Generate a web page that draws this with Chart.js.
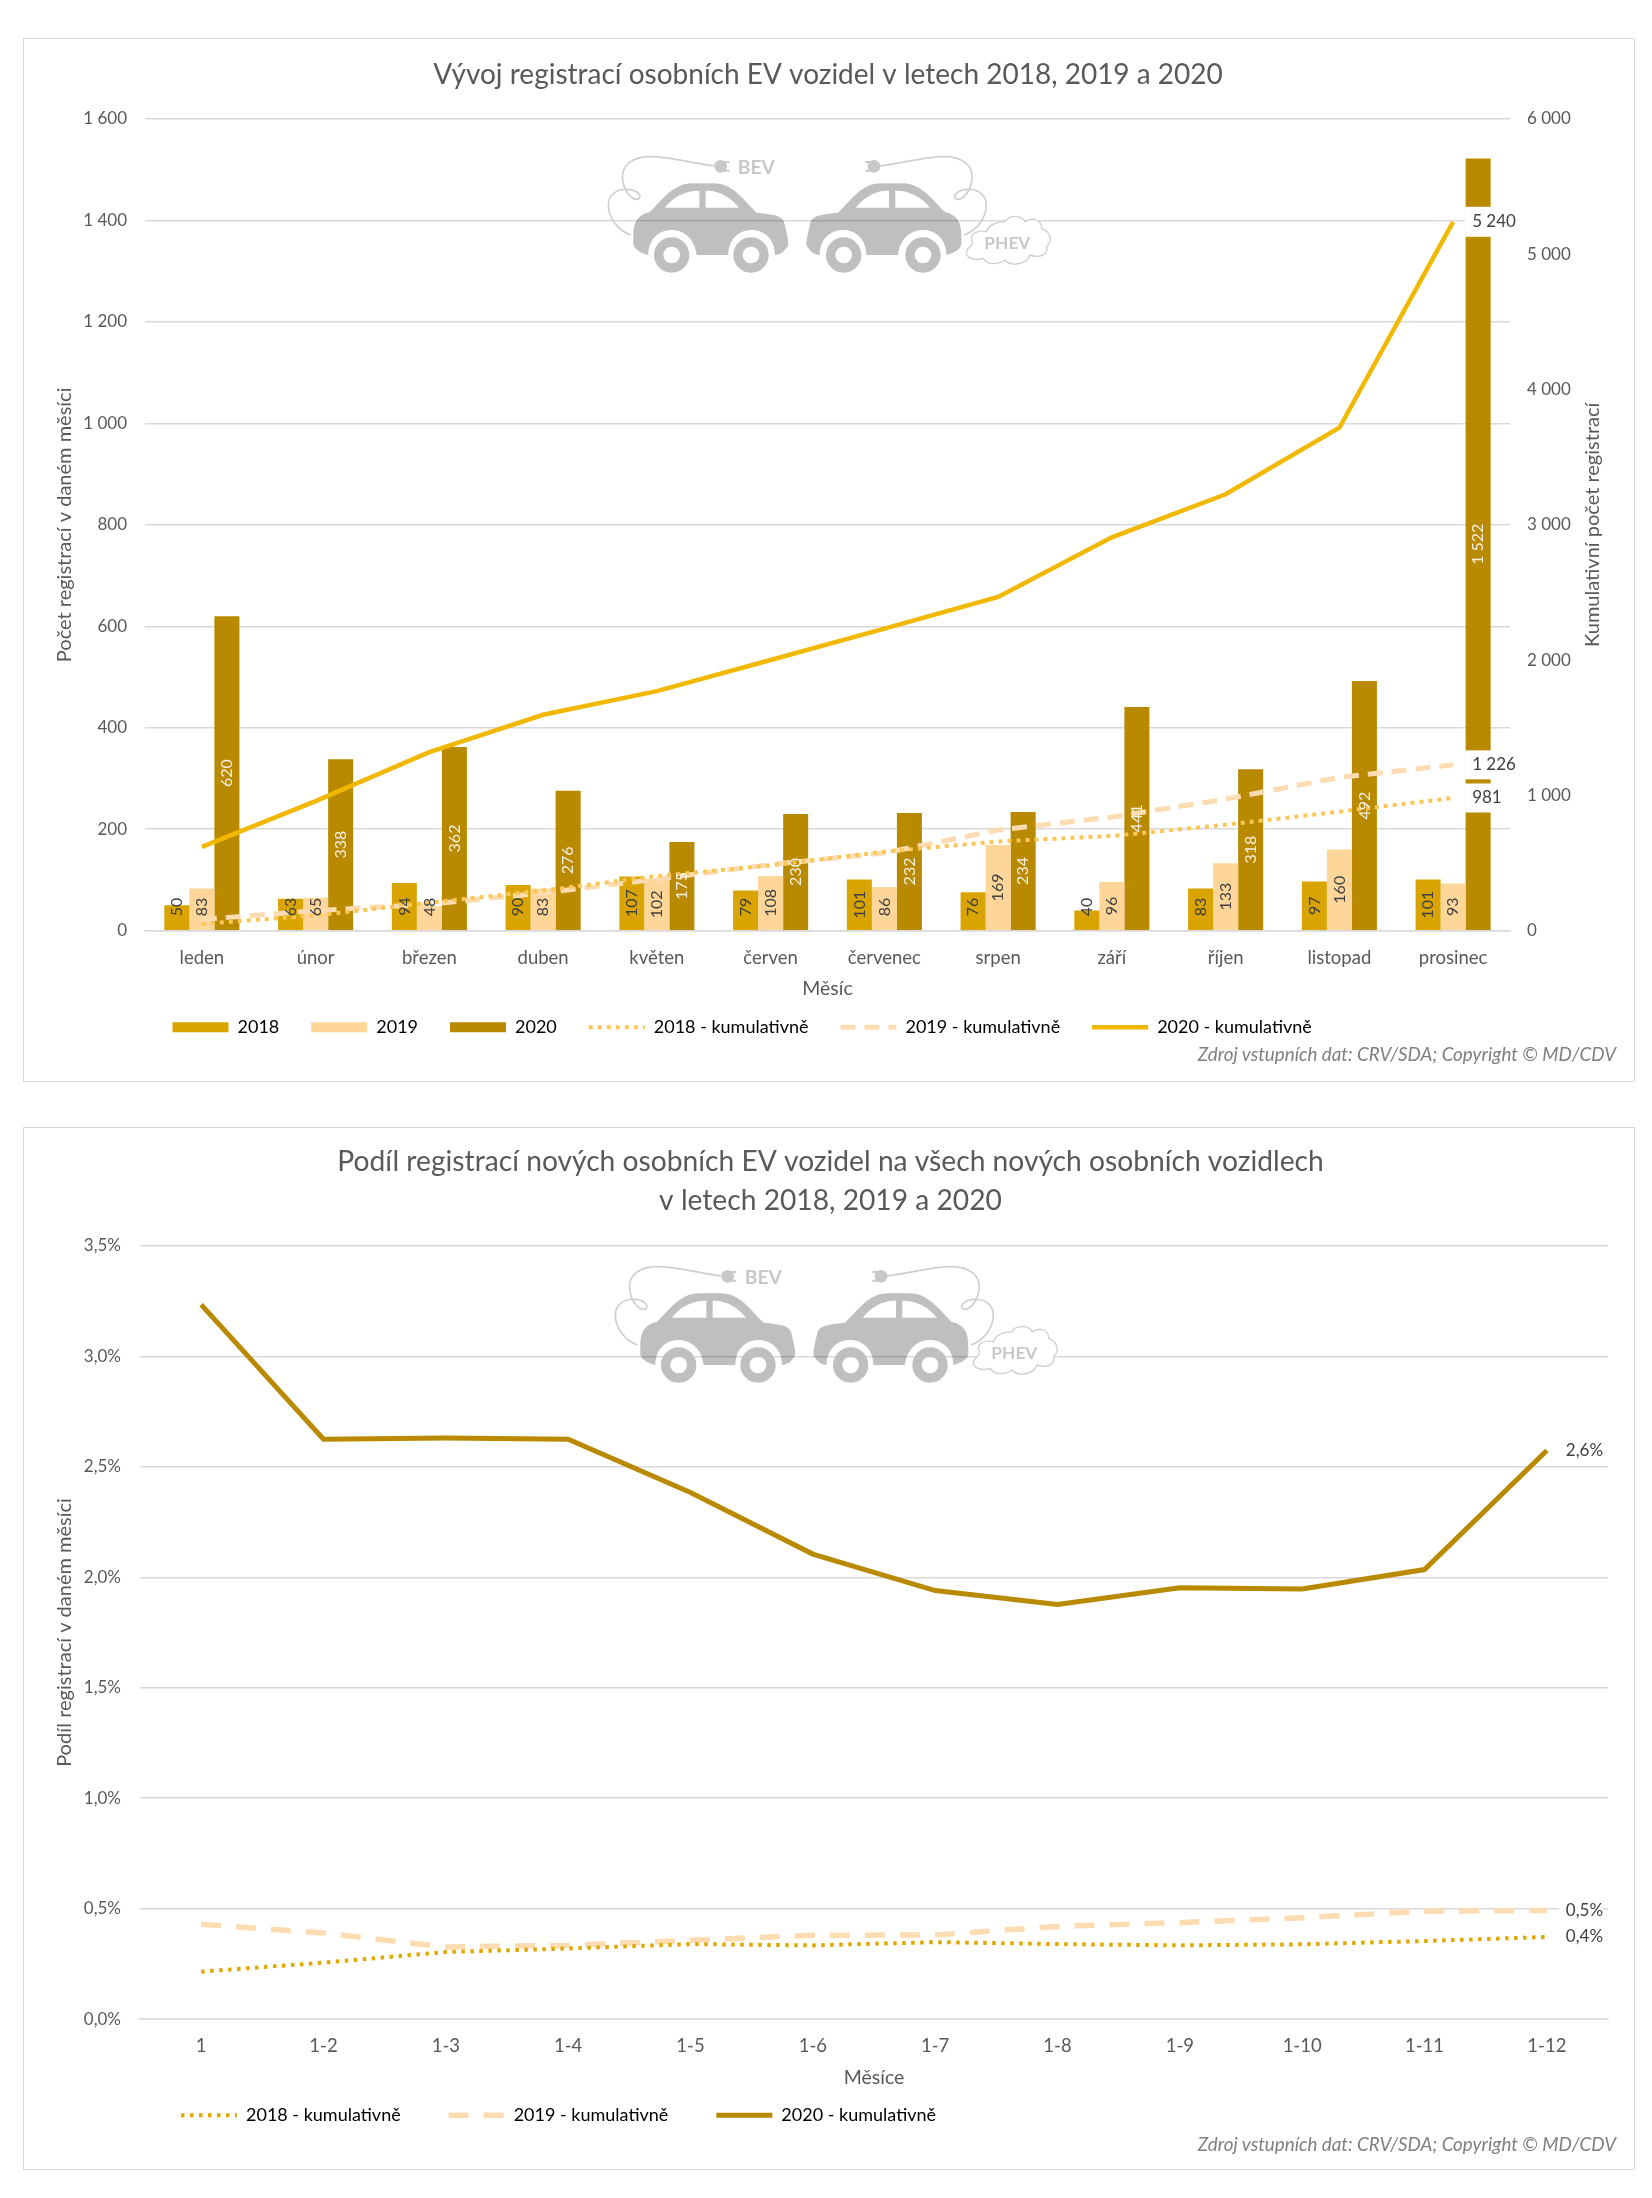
<!DOCTYPE html>
<html>
<head>
<meta charset="utf-8">
<title>Registrace EV</title>
<script src="https://cdn.jsdelivr.net/npm/chart.js@4"></script>
<style>
  html, body { margin: 0; padding: 0; background: #fff; }
  body { position: relative; width: 1652px; height: 2198px; overflow: hidden; font-family: Lato, sans-serif; }
  .frame { position: absolute; left: 23px; width: 1610px; border: 1.5px solid #d9d9d9; box-sizing: content-box; }
  .frame canvas { position: absolute; left: -1px; top: -1px; }
  .source { position: absolute; right: 36px; font: italic 18.8px Lato, sans-serif; color: #7f7f7f; white-space: nowrap; }
  svg.logo { position: absolute; pointer-events: none; }
</style>
</head>
<body>
<div class="frame" style="top:38px;height:1042px"><canvas id="monthlyChart" width="1610" height="1042"></canvas></div>
<div class="frame" style="top:1127px;height:1041px"><canvas id="shareChart" width="1610" height="1041"></canvas></div>
<div class="source" style="top:1042px">Zdroj vstupních dat: CRV/SDA; Copyright © MD/CDV</div>
<div class="source" style="top:2132px">Zdroj vstupních dat: CRV/SDA; Copyright © MD/CDV</div>

<svg class="logo" style="left:600px;top:140px" width="470" height="150" viewBox="0 0 1410 450">
  <defs>
    <g id="car">
      <path fill="#000" fill-opacity=".25" fill-rule="evenodd" d="M100 290 C100 240 115 225 150 215 C175 195 215 130 275 130 L340 130 C400 130 430 180 470 218 C510 222 545 225 552 245 C558 270 565 295 565 315 C555 335 540 345 525 345 C525 300 495 270 455 270 C415 270 385 300 385 345 L290 345 C285 300 255 270 215 270 C175 270 145 300 145 345 C125 340 105 330 100 315 Z M195 203 C215 175 250 152 298 152 L298 203 Z M317 152 C360 150 395 175 417 203 L317 203 Z"/>
      <circle cx="215" cy="345" r="39" fill="none" stroke="#bfbfbf" stroke-width="28"/>
      <circle cx="453" cy="345" r="39" fill="none" stroke="#bfbfbf" stroke-width="28"/>
      <path fill="none" stroke="#cfcfcf" stroke-width="5" d="M92 285 C50 270 25 230 25 195 C25 165 50 145 85 148 C110 150 125 165 118 175 C105 185 75 165 68 120 C62 75 100 50 150 50 C210 50 280 70 345 78"/>
      <circle cx="362" cy="79" r="19" fill="#c8c8c8"/>
      <path fill="none" stroke="#c8c8c8" stroke-width="6" d="M370 66 H388 M370 92 H388"/>
    </g>
    <g id="logoMark">
      <use href="#car"/>
      <use href="#car" transform="matrix(-1 0 0 1 1184 0)"/>
      <text x="413" y="102" font-family="Lato" font-weight="700" font-size="58" fill="#c8c8c8">BEV</text>
      <path fill="#fff" stroke="#cfcfcf" stroke-width="4" d="M1115 300 C1110 280 1135 270 1160 275 C1165 250 1200 245 1215 245 C1225 225 1265 225 1275 245 C1300 230 1325 240 1325 265 C1350 275 1360 300 1340 320 C1345 345 1320 355 1290 345 C1280 375 1230 380 1215 360 C1195 375 1160 375 1150 355 C1120 365 1095 350 1100 335 C1100 320 1125 320 1115 300 Z"/>
      <text x="1153" y="328" font-family="Lato" font-weight="700" font-size="52" fill="#c8c8c8">PHEV</text>
    </g>
  </defs>
  <use href="#logoMark"/>
</svg>
<svg class="logo" style="left:607px;top:1250px" width="470" height="150" viewBox="0 0 1410 450">
  <use href="#logoMark"/>
</svg>

<script>
// data
var months = ["leden", "únor", "březen", "duben", "květen", "červen", "červenec", "srpen", "září", "říjen", "listopad", "prosinec"];
var monthly2018 = [50, 63, 94, 90, 107, 79, 101, 76, 40, 83, 97, 101];
var monthly2019 = [83, 65, 48, 83, 102, 108, 86, 169, 96, 133, 160, 93];
var monthly2020 = [620, 338, 362, 276, 175, 230, 232, 234, 441, 318, 492, 1522];
var cumulative2018 = [50, 113, 207, 297, 404, 483, 584, 660, 700, 783, 880, 981];
var cumulative2019 = [83, 148, 196, 279, 381, 489, 575, 744, 840, 973, 1133, 1226];
var cumulative2020 = [620, 958, 1320, 1596, 1771, 2001, 2233, 2467, 2908, 3226, 3718, 5240];
var leftTicks = ["0", "200", "400", "600", "800", "1 000", "1 200", "1 400", "1 600"];
var rightTicks = ["0", "1 000", "2 000", "3 000", "4 000", "5 000", "6 000"];

var periods = ["1", "1-2", "1-3", "1-4", "1-5", "1-6", "1-7", "1-8", "1-9", "1-10", "1-11", "1-12"];
var share2018 = [0.215, 0.256, 0.304, 0.32, 0.34, 0.334, 0.349, 0.34, 0.334, 0.339, 0.354, 0.372];
var share2019 = [0.43, 0.39, 0.327, 0.334, 0.357, 0.38, 0.381, 0.42, 0.437, 0.459, 0.489, 0.492];
var share2020 = [3.234, 2.625, 2.63, 2.625, 2.384, 2.105, 1.94, 1.877, 1.953, 1.947, 2.035, 2.574];
var shareTicks = ["0,0%", "0,5%", "1,0%", "1,5%", "2,0%", "2,5%", "3,0%", "3,5%"];

var textColor = "#595959";
var gridColor = "#d9d9d9";
var gold2018 = "#d9a300";
var peach2019 = "#ffd699";
var brown2020 = "#b98900";

Chart.defaults.font.family = "Lato, sans-serif";
Chart.defaults.font.size = 17;
Chart.defaults.color = textColor;

function legendItems(chart) {
  return chart.data.datasets.map(function (ds, i) {
    var isBar = ds.type === "bar";
    return {
      text: ds.label,
      datasetIndex: i,
      fillStyle: isBar ? ds.backgroundColor : ds.borderColor,
      strokeStyle: isBar ? ds.backgroundColor : ds.borderColor,
      lineWidth: isBar ? 0 : ds.borderWidth,
      lineDash: ds.borderDash || [],
      pointStyle: isBar ? "rect" : "line"
    };
  });
}

// text with a white box behind it, next to the last point of a line
function endLabel(chart, ctx, datasetIndex, text, boxW, boxH) {
  var point = chart.getDatasetMeta(datasetIndex).data[11];
  ctx.fillStyle = "#fff";
  ctx.fillRect(point.x + 12, point.y - boxH / 2, boxW, boxH);
  ctx.fillStyle = "#404040";
  ctx.textAlign = "left";
  ctx.textBaseline = "middle";
  ctx.fillText(text, point.x + 19, point.y);
}

// puts the legend where it sits in the picture
function moveLegend(left, middle) {
  return {
    id: "moveLegend",
    afterLayout: function (chart) {
      var pad = chart.legend.options.labels.padding;
      chart.legend.left = left - pad;
      chart.legend.top = middle - pad - 10.8;
    }
  };
}

var monthlyNotes = {
  id: "monthlyNotes",
  afterDatasetsDraw: function (chart) {
    var ctx = chart.ctx;
    ctx.save();
    ctx.font = "17px Lato, sans-serif";
    endLabel(chart, ctx, 5, "5 240", 52, 30);
    endLabel(chart, ctx, 4, "1 226", 52, 29);
    endLabel(chart, ctx, 3, "981", 52, 29);

    // rotated labels over the bars, lifted when the bar is too short
    ctx.font = "16px Lato, sans-serif";
    [0, 1, 2].forEach(function (di) {
      var values = chart.data.datasets[di].data;
      chart.getDatasetMeta(di).data.forEach(function (bar, i) {
        var y = Math.min((bar.y + bar.base) / 2, bar.base - 23);
        ctx.save();
        ctx.translate(bar.x, y);
        ctx.rotate(-Math.PI / 2);
        ctx.textAlign = "center";
        ctx.textBaseline = "middle";
        ctx.fillStyle = di === 2 ? "#f5f0e0" : "#404040";
        ctx.fillText(String(values[i]).replace(/(\d)(\d{3})$/, "$1 $2"), 0, 0);
        ctx.restore();
      });
    });

    // right axis title reads upwards like the left one
    ctx.font = "20px Lato, sans-serif";
    ctx.translate(1570, (chart.chartArea.top + chart.chartArea.bottom) / 2);
    ctx.rotate(-Math.PI / 2);
    ctx.fillStyle = textColor;
    ctx.textAlign = "center";
    ctx.textBaseline = "middle";
    ctx.fillText("Kumulativní počet registrací", 0, 0);
    ctx.restore();
  }
};

var shareNotes = {
  id: "shareNotes",
  afterDatasetsDraw: function (chart) {
    var ctx = chart.ctx;
    ctx.save();
    ctx.font = "17px Lato, sans-serif";
    endLabel(chart, ctx, 2, "2,6%", 44, 24);
    endLabel(chart, ctx, 1, "0,5%", 44, 24);
    endLabel(chart, ctx, 0, "0,4%", 44, 24);
    ctx.restore();
  }
};

new Chart(document.getElementById("monthlyChart"), {
  type: "bar",
  data: {
    labels: months,
    datasets: [
      { type: "bar", label: "2018", data: monthly2018, backgroundColor: gold2018, yAxisID: "y", order: 2, categoryPercentage: 0.66, barPercentage: 1 },
      { type: "bar", label: "2019", data: monthly2019, backgroundColor: peach2019, yAxisID: "y", order: 2, categoryPercentage: 0.66, barPercentage: 1 },
      { type: "bar", label: "2020", data: monthly2020, backgroundColor: brown2020, yAxisID: "y", order: 2, categoryPercentage: 0.66, barPercentage: 1 },
      { type: "line", label: "2018 - kumulativně", data: cumulative2018, borderColor: "#fbc655", borderWidth: 4, borderDash: [4, 5], pointRadius: 0, yAxisID: "y1", order: 1 },
      { type: "line", label: "2019 - kumulativně", data: cumulative2019, borderColor: "#fddcb2", borderWidth: 5, borderDash: [15, 9], pointRadius: 0, yAxisID: "y1", order: 1 },
      { type: "line", label: "2020 - kumulativně", data: cumulative2020, borderColor: "#f2b800", borderWidth: 4.5, pointRadius: 0, yAxisID: "y1", order: 1 }
    ]
  },
  options: {
    responsive: false,
    animation: false,
    layout: { padding: { left: 30, right: 30, top: 0, bottom: 19.3 } },
    plugins: {
      tooltip: { enabled: false },
      title: {
        display: true,
        text: "Vývoj registrací osobních EV vozidel v letech 2018, 2019 a 2020",
        color: textColor,
        font: { size: 28, weight: "normal" },
        padding: { top: 20.2, bottom: 27.2 }
      },
      legend: {
        position: "bottom",
        align: "start",
        labels: { usePointStyle: true, pointStyleWidth: 56, boxHeight: 10, padding: 32, font: { size: 18 }, generateLabels: legendItems }
      }
    },
    scales: {
      x: {
        grid: { display: false, drawTicks: false },
        border: { color: gridColor, width: 1.5 },
        ticks: { padding: 16, maxRotation: 0, autoSkip: false, font: { size: 18.5 } },
        title: { display: true, text: "Měsíc", padding: 0, font: { size: 19.5 } },
        afterFit: function (s) { s.height = 70; }
      },
      y: {
        position: "left",
        min: 0,
        max: 1600,
        grid: { color: gridColor, lineWidth: 1.5, drawTicks: false },
        border: { display: false },
        ticks: { stepSize: 200, padding: 18, callback: function (v, i) { return leftTicks[i]; } },
        title: { display: true, text: "Počet registrací v daném měsíci", padding: 0, font: { size: 20 } },
        afterFit: function (s) { s.width = 92; }
      },
      y1: {
        position: "right",
        min: 0,
        max: 6000,
        grid: { display: false, drawTicks: false },
        border: { display: false },
        ticks: { stepSize: 1000, padding: 17, callback: function (v, i) { return rightTicks[i]; } },
        afterFit: function (s) { s.width = 93; }
      }
    }
  },
  plugins: [moveLegend(149.5, 991), monthlyNotes]
});

new Chart(document.getElementById("shareChart"), {
  type: "line",
  data: {
    labels: periods,
    datasets: [
      { label: "2018 - kumulativně", data: share2018, borderColor: "#e0a800", borderWidth: 4, borderDash: [3.5, 5.5], pointRadius: 0 },
      { label: "2019 - kumulativně", data: share2019, borderColor: "#fddcb2", borderWidth: 5.5, borderDash: [20, 15], pointRadius: 0 },
      { label: "2020 - kumulativně", data: share2020, borderColor: brown2020, borderWidth: 5, pointRadius: 0 }
    ]
  },
  options: {
    responsive: false,
    animation: false,
    layout: { padding: { left: 30, right: 25, top: 0, bottom: 2.8 } },
    plugins: {
      tooltip: { enabled: false },
      title: {
        display: true,
        text: ["Podíl registrací nových osobních EV vozidel na všech nových osobních vozidlech", "v letech 2018, 2019 a 2020"],
        color: textColor,
        font: { size: 28.2, weight: "normal", lineHeight: 1.38 },
        padding: { top: 15.5, bottom: 25.5 }
      },
      legend: {
        position: "bottom",
        align: "start",
        labels: { usePointStyle: true, pointStyleWidth: 56, boxHeight: 10, padding: 48, font: { size: 18 }, generateLabels: legendItems }
      }
    },
    scales: {
      x: {
        offset: true,
        grid: { display: false, drawTicks: false },
        border: { color: gridColor, width: 1.5 },
        ticks: { padding: 16, maxRotation: 0, autoSkip: false, font: { size: 18.5 } },
        title: { display: true, text: "Měsíce", padding: 0, font: { size: 19.5 } },
        afterFit: function (s) { s.height = 70; }
      },
      y: {
        min: 0,
        max: 3.5,
        grid: { color: gridColor, lineWidth: 1.5, drawTicks: false },
        border: { display: false },
        ticks: { stepSize: 0.5, padding: 19, callback: function (v, i) { return shareTicks[i]; } },
        title: { display: true, text: "Podíl registrací v daném měsíci", padding: 0, font: { size: 20 } },
        afterFit: function (s) { s.width = 87; }
      }
    }
  },
  plugins: [moveLegend(158, 990), shareNotes]
});
</script>
</body>
</html>
